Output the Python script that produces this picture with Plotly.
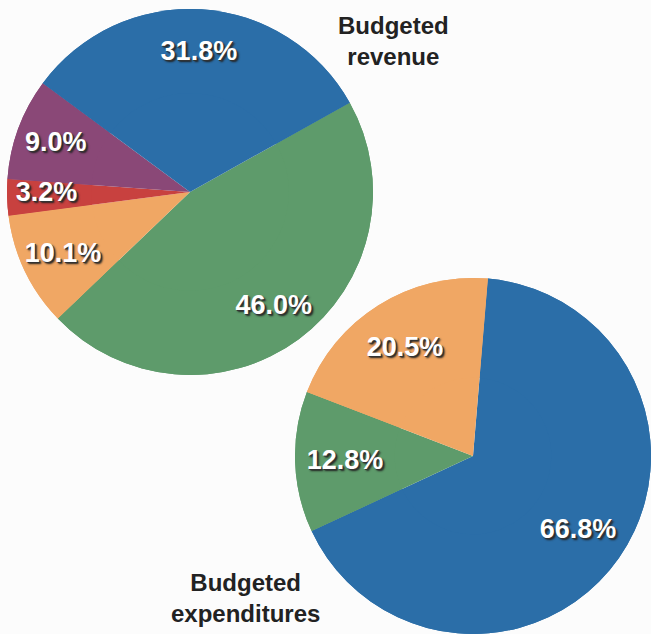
import plotly.graph_objects as go

# Budgeted revenue
rev_labels = ["Green", "Orange", "Red", "Purple", "Blue"]
rev_values = [46.0, 10.1, 3.2, 9.0, 31.8]
rev_colors = ["#5e9b6b", "#f0a764", "#c8413f", "#8a4877", "#2b6ea8"]

# Budgeted expenditures
exp_labels = ["Blue", "Green", "Orange"]
exp_values = [66.8, 12.8, 20.5]
exp_colors = ["#2b6ea8", "#5e9b6b", "#f0a764"]

titles = ["Budgeted<br>revenue", "Budgeted<br>expenditures"]

W, H = 651, 634
FS = 27
THIN = 0.05  # slices below this share get their label from an inner text layer

textfont = dict(family="Liberation Sans, Arial, sans-serif", size=FS, color="white",
                weight="bold", shadow="1px 1px 0px #333333, 2px 2px 2px #222222")

dom1 = dict(x=[7 / W, 373 / W], y=[1 - 375 / H, 1 - 9 / H])
dom2 = dict(x=[295 / W, 1.0], y=[0.0, 1 - 278 / H])


def shrink(dom, f):
    cx, cy = sum(dom["x"]) / 2, sum(dom["y"]) / 2
    hx, hy = (dom["x"][1] - dom["x"][0]) / 2 * f, (dom["y"][1] - dom["y"][0]) / 2 * f
    return dict(x=[cx - hx, cx + hx], y=[cy - hy, cy + hy])


def add_pie(fig, labels, values, colors, rotation, domain, hole):
    total = sum(values)
    txt = [f"{v:.1f}%" for v in values]
    wide = [t if v / total >= THIN else "" for t, v in zip(txt, values)]
    thin = [t if v / total < THIN else "" for t, v in zip(txt, values)]
    common = dict(labels=labels, values=values, sort=False, direction="clockwise",
                  rotation=rotation, showlegend=False)
    # solid base pie (no text)
    fig.add_trace(go.Pie(**common, marker=dict(colors=colors, line=dict(width=0)),
                         textinfo="none", domain=domain, hoverinfo="skip"))
    # identical ring on top that carries the percentage labels near the rim
    fig.add_trace(go.Pie(**common, hole=hole, marker=dict(colors=colors, line=dict(width=0)),
                         text=wide, texttemplate="%{text}", textposition="inside",
                         insidetextorientation="horizontal", textfont=textfont,
                         domain=domain, hoverinfo="label+value"))
    # transparent, slightly smaller layer for labels of very thin slices
    if any(thin):
        fig.add_trace(go.Pie(**common,
                             marker=dict(colors=["rgba(0,0,0,0)"] * len(values),
                                         line=dict(width=0)),
                             text=thin, texttemplate="%{text}", textposition="inside",
                             insidetextorientation="horizontal", textfont=textfont,
                             domain=shrink(domain, 0.885), hoverinfo="skip"))


fig = go.Figure()
add_pie(fig, rev_labels, rev_values, rev_colors, 60.8, dom1, 0.54)
add_pie(fig, exp_labels, exp_values, exp_colors, 4.8, dom2, 0.44)

title_font = dict(family="Liberation Sans, Arial, sans-serif", size=24, color="#222222",
                  weight="bold")
fig.add_annotation(text=titles[0], x=393 / W, y=1 - 41 / H, xref="paper", yref="paper",
                   xanchor="center", yanchor="middle",
                   showarrow=False, font=title_font, align="center")
fig.add_annotation(text=titles[1], x=245 / W, y=1 - 598 / H, xref="paper", yref="paper",
                   xanchor="center", yanchor="middle",
                   showarrow=False, font=title_font, align="center")

fig.update_layout(
    width=W, height=H, margin=dict(l=0, r=0, t=0, b=0),
    paper_bgcolor="#fcfcfc", plot_bgcolor="#fcfcfc",
    uniformtext=dict(mode="show", minsize=FS),
)
fig.write_html("out.html", config={"displayModeBar": False},
               post_script="document.body.style.margin='0';document.body.style.overflow='hidden';")
